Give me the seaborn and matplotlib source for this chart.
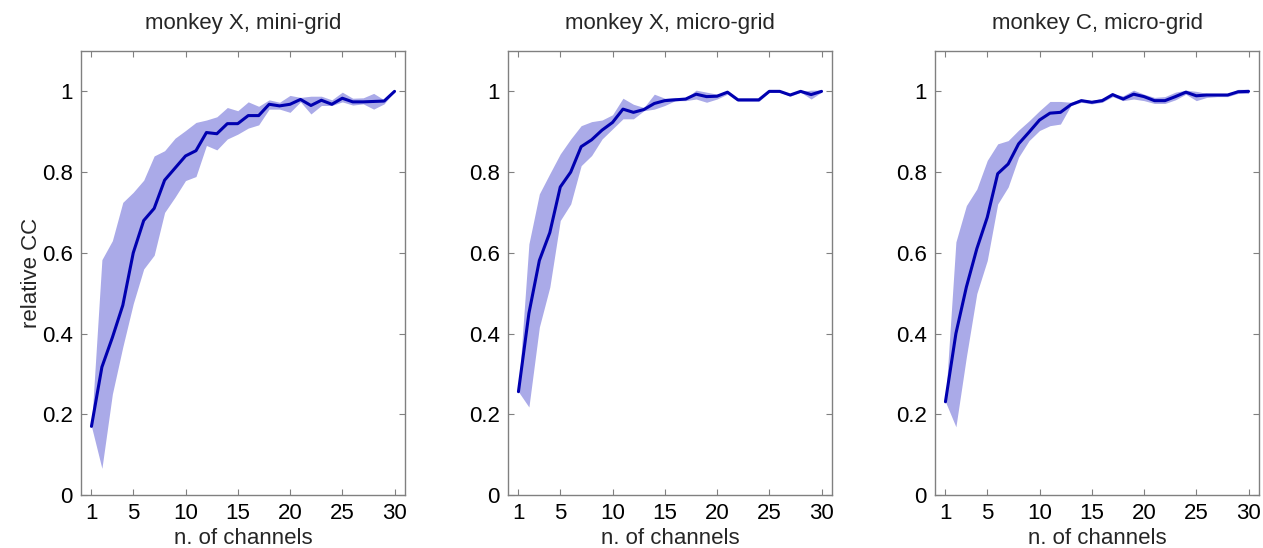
import numpy as np
import pandas as pd
import matplotlib
matplotlib.use("Agg")
import matplotlib.pyplot as plt
import seaborn as sns

channels = list(range(1, 31))

titles = ["monkey X, mini-grid", "monkey X, micro-grid", "monkey C, micro-grid"]

mean_xmini = [0.17, 0.317, 0.39, 0.47, 0.60, 0.68, 0.71, 0.78, 0.81, 0.84,
              0.853, 0.898, 0.895, 0.92, 0.92, 0.94, 0.94, 0.968, 0.964, 0.968,
              0.98, 0.965, 0.978, 0.968, 0.983, 0.974, 0.974, 0.975, 0.976, 1.0]
upper_xmini = [0.17, 0.583, 0.63, 0.725, 0.75, 0.78, 0.84, 0.853, 0.884, 0.903,
               0.923, 0.929, 0.937, 0.96, 0.952, 0.974, 0.963, 0.979, 0.973, 0.99,
               0.985, 0.988, 0.988, 0.979, 0.998, 0.983, 0.984, 0.995, 0.979, 1.0]
lower_xmini = [0.17, 0.066, 0.25, 0.367, 0.474, 0.56, 0.594, 0.70, 0.738, 0.779,
               0.789, 0.866, 0.855, 0.882, 0.894, 0.909, 0.917, 0.956, 0.956, 0.948,
               0.974, 0.944, 0.965, 0.965, 0.974, 0.966, 0.969, 0.956, 0.969, 1.0]

mean_xmicro = [0.256, 0.45, 0.581, 0.65, 0.763, 0.80, 0.863, 0.88, 0.904, 0.923,
               0.956, 0.948, 0.955, 0.97, 0.977, 0.979, 0.981, 0.993, 0.987, 0.988,
               0.998, 0.979, 0.979, 0.979, 1.0, 1.0, 0.991, 1.0, 0.992, 1.0]
upper_xmicro = [0.256, 0.622, 0.746, 0.796, 0.845, 0.882, 0.915, 0.925, 0.929, 0.942,
                0.983, 0.968, 0.96, 0.993, 0.983, 0.985, 0.983, 1.003, 0.998, 0.993,
                1.0, 0.98, 0.98, 0.98, 1.0, 1.0, 0.993, 1.0, 1.003, 1.003]
lower_xmicro = [0.256, 0.218, 0.416, 0.515, 0.68, 0.721, 0.816, 0.841, 0.882, 0.907,
                0.932, 0.932, 0.952, 0.956, 0.965, 0.977, 0.977, 0.981, 0.973, 0.981,
                0.993, 0.975, 0.975, 0.975, 0.998, 0.998, 0.988, 0.998, 0.981, 0.998]

mean_cmicro = [0.231, 0.40, 0.515, 0.61, 0.688, 0.796, 0.82, 0.87, 0.899, 0.929,
               0.946, 0.948, 0.967, 0.977, 0.973, 0.977, 0.992, 0.981, 0.993, 0.987,
               0.977, 0.977, 0.987, 0.998, 0.989, 0.991, 0.991, 0.991, 0.999, 1.0]
upper_cmicro = [0.231, 0.627, 0.717, 0.758, 0.829, 0.87, 0.878, 0.904, 0.927, 0.952,
                0.975, 0.975, 0.973, 0.981, 0.977, 0.983, 0.993, 0.989, 1.003, 0.993,
                0.985, 0.987, 0.998, 1.003, 1.0, 0.995, 0.993, 0.993, 1.005, 1.005]
lower_cmicro = [0.231, 0.169, 0.342, 0.499, 0.581, 0.721, 0.763, 0.837, 0.878, 0.903,
                0.915, 0.919, 0.965, 0.973, 0.969, 0.973, 0.987, 0.977, 0.981, 0.977,
                0.97, 0.97, 0.979, 0.993, 0.977, 0.985, 0.987, 0.987, 0.995, 0.995]

means = [mean_xmini, mean_xmicro, mean_cmicro]
uppers = [upper_xmini, upper_xmicro, upper_cmicro]
lowers = [lower_xmini, lower_xmicro, lower_cmicro]

xticks = [1, 5, 10, 15, 20, 25, 30]
yticks = [0, 0.2, 0.4, 0.6, 0.8, 1.0]
ytick_labels = ["0", "0.2", "0.4", "0.6", "0.8", "1"]

sns.set_theme(style="white")
plt.rcParams['font.family'] = ['Liberation Sans', 'DejaVu Sans']

LINE = "#0000b0"
BAND = "#aaaae8"
FRAME = "#808080"
FS = 16

fig = plt.figure(figsize=(12.63, 5.48), dpi=100)
lefts = [81, 508, 935]
W, H = 1263, 548
for i in range(3):
    ax = fig.add_axes([lefts[i] / W, 1 - 495 / H, 324 / W, 444 / H])
    df = pd.DataFrame({"n": channels, "cc": means[i]})
    ax.fill_between(channels, lowers[i], uppers[i], color=BAND, linewidth=0, zorder=1)
    sns.lineplot(data=df, x="n", y="cc", ax=ax, color=LINE, linewidth=2.2, zorder=2)
    ax.set_xlim(0, 31)
    ax.set_ylim(0, 1.1)
    ax.set_xticks(xticks)
    ax.set_xticklabels([str(t) for t in xticks])
    ax.set_yticks(yticks)
    ax.set_yticklabels(ytick_labels)
    ax.tick_params(direction="in", length=4, width=0.8, color=FRAME,
                   labelsize=FS, labelcolor="black", top=True, right=True,
                   bottom=True, left=True, pad=6)
    for s in ax.spines.values():
        s.set_color(FRAME)
        s.set_linewidth(1.0)
        s.set_visible(True)
    ax.set_title(titles[i], fontsize=FS, pad=16)
    ax.set_xlabel("n. of channels", fontsize=FS, labelpad=3)
    if i == 0:
        ax.set_ylabel("relative CC", fontsize=FS, labelpad=0)
    else:
        ax.set_ylabel("")
    ax.grid(False)

fig.savefig("out.png", dpi=100, facecolor="white")
